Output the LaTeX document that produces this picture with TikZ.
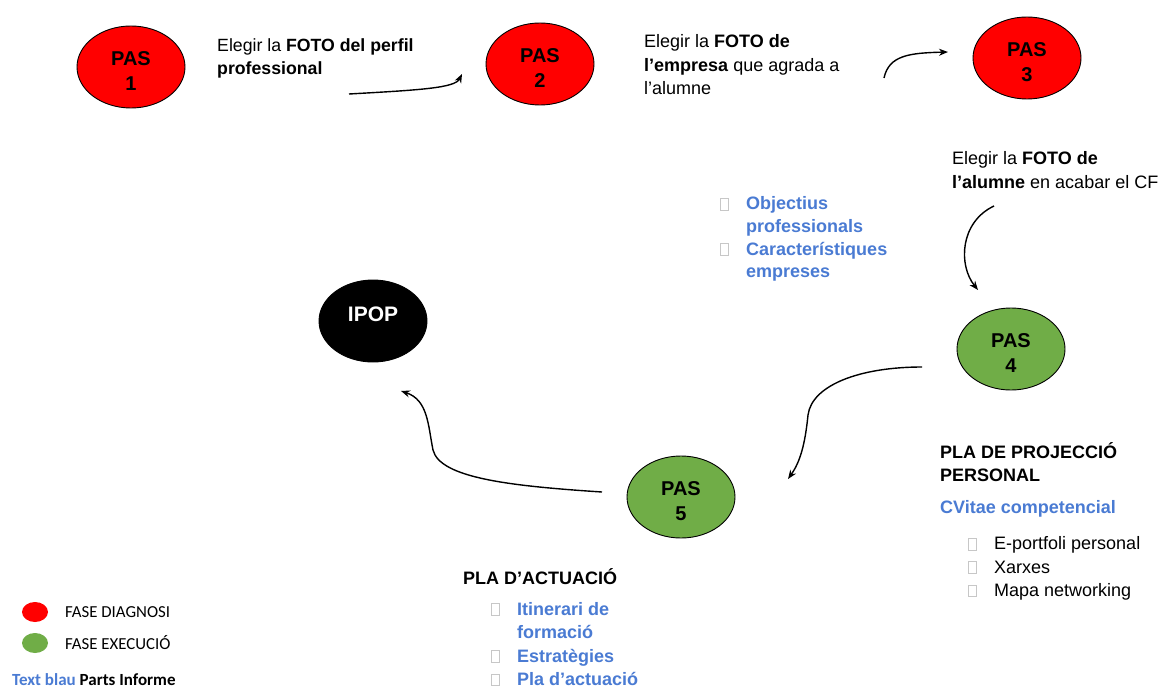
\documentclass[tikz,border=0pt]{standalone}
\usepackage{fontspec}
\setmainfont{Liberation Sans}
\newfontfamily\legendfont{Carlito}
\usepackage{xcolor}
\usepackage{tikz}
\usetikzlibrary{shapes.geometric, arrows.meta}

\definecolor{pasred}{HTML}{FF0000}
\definecolor{pasgreen}{HTML}{70AD47}
\definecolor{partblue}{HTML}{4A7BD3}
\newcommand{\bx}{{\color{black!22}\fboxrule=0.8pt\fboxsep=0pt\fbox{\rule{0pt}{11pt}\hspace{7pt}}}}
\newcommand{\bitem}{\makebox[26pt][l]{\bx}}
\newcommand{\nobitem}{\hspace*{26pt}}
\newcommand{\pastext}[1]{\rule{0pt}{22pt}PAS\\#1}

\begin{document}
\begin{tikzpicture}[x=1pt, y=-1pt,
    pas/.style={ellipse, draw=black, line width=0.9pt, minimum width=108pt, minimum height=82pt,
      inner sep=0pt, align=center, font=\bfseries\fontsize{20}{25}\selectfont},
    txt/.style={anchor=north west, inner sep=0pt, align=left, font=\fontsize{18}{23.4}\selectfont},
    legtxt/.style={anchor=base west, inner sep=0pt, font=\legendfont\fontsize{16.8}{18}\selectfont},
    conn/.style={-{Stealth[length=9pt, width=7pt]}, line width=1.4pt}]
      \useasboundingbox (0,0) rectangle (1161,687);
      \fill[white] (0,0) rectangle (1161,687);

      % Draw steps
      \node[pas, fill=pasred] (pas1) at (131,67) {\pastext{1}};
      \node[pas, fill=pasred] (pas2) at (540,64) {\pastext{2}};
      \node[pas, fill=pasred] (pas3) at (1027,58) {\pastext{3}};
      \node[pas, fill=pasgreen] (pas4) at (1011,349) {\pastext{4}};
      \node[pas, fill=pasgreen] (pas5) at (681,497) {\pastext{5}};
      \node[pas, fill=black, text=white, font=\bfseries\fontsize{21}{25}\selectfont,
        text height=0pt, text depth=0pt] (ipop) at (373,321) {IPOP};

      % Texts of each step
      \node[txt, font=\fontsize{17.7}{23.4}\selectfont] (foto1) at (217,38.4) {Elegir la \textbf{FOTO del perfil}\\\textbf{professional}};
      \node[txt] (foto2) at (644,34.4) {Elegir la \textbf{FOTO de}\\\textbf{l'empresa} que agrada a\\l'alumne};
      \node[txt] (foto3) at (952,151.4) {Elegir la \textbf{FOTO de}\\\textbf{l'alumne} en acabar el CF};
      \node[txt, text=partblue, font=\bfseries\fontsize{18}{22.7}\selectfont] (objectius) at (720,196.4)
        {\bitem Objectius\\\nobitem professionals\\\bitem Característiques\\\nobitem empreses};
      \node[txt, font=\bfseries\fontsize{18}{22.5}\selectfont] (projeccio) at (940,442.4) {PLA DE PROJECCIÓ\\PERSONAL};
      \node[txt, text=partblue, font=\bfseries\fontsize{18}{23.4}\selectfont] (cvitae) at (940,500.4) {CVitae competencial};
      \node[txt] (eines) at (968,536.4) {\bitem E-portfoli personal\\\bitem Xarxes\\\bitem Mapa networking};
      \node[txt, font=\bfseries\fontsize{18}{23.4}\selectfont] (actuacio) at (463,568.4) {PLA D'ACTUACIÓ};
      \node[txt, text=partblue, font=\bfseries\fontsize{18}{23.4}\selectfont] (itinerari) at (491,602)
        {\bitem Itinerari de\\\nobitem formació\\\bitem Estratègies\\\bitem Pla d'actuació};

      % Arrow ends
      \coordinate (a1s) at (349,94);   \coordinate (a1e) at (462,74);
      \coordinate (a2s) at (884,78);   \coordinate (a2e) at (948,52);
      \coordinate (a3s) at (994,206);  \coordinate (a3e) at (978,290);
      \coordinate (a4s) at (922,367);  \coordinate (a4m) at (808,415);  \coordinate (a4e) at (788,479);
      \coordinate (a5s) at (602,492);  \coordinate (a5m) at (433,450);  \coordinate (a5e) at (401,391);

      % Draw arrows
      \draw[conn] (a1s) .. controls (420,90) and (455,88) .. (a1e);
      \draw[conn] (a2s) .. controls (889,55) and (910,53) .. (a2e);
      \draw[conn] (a3s) .. controls (960,222) and (958,265) .. (a3e);
      \draw[conn] (a4s) .. controls (860,367) and (812,385) .. (a4m) .. controls (805,445) and (800,462) .. (a4e);
      \draw[conn] (a5s) .. controls (510,486) and (440,478) .. (a5m) .. controls (428,425) and (428,400) .. (a5e);

      % Legend
      \node[ellipse, fill=pasred, minimum width=26pt, minimum height=20pt, inner sep=0pt] (legred) at (35,612) {};
      \node[ellipse, fill=pasgreen, minimum width=26pt, minimum height=20pt, inner sep=0pt] (leggreen) at (35,643) {};
      \node[legtxt] (diagnosi) at (65,617) {FASE DIAGNOSI};
      \node[legtxt] (execucio) at (65,649) {FASE EXECUCIÓ};
      \node[legtxt, font=\legendfont\bfseries\fontsize{17}{18}\selectfont] (textblau) at (12,685)
        {\textcolor{partblue}{Text blau} Parts Informe};
  \end{tikzpicture}
\end{document}
